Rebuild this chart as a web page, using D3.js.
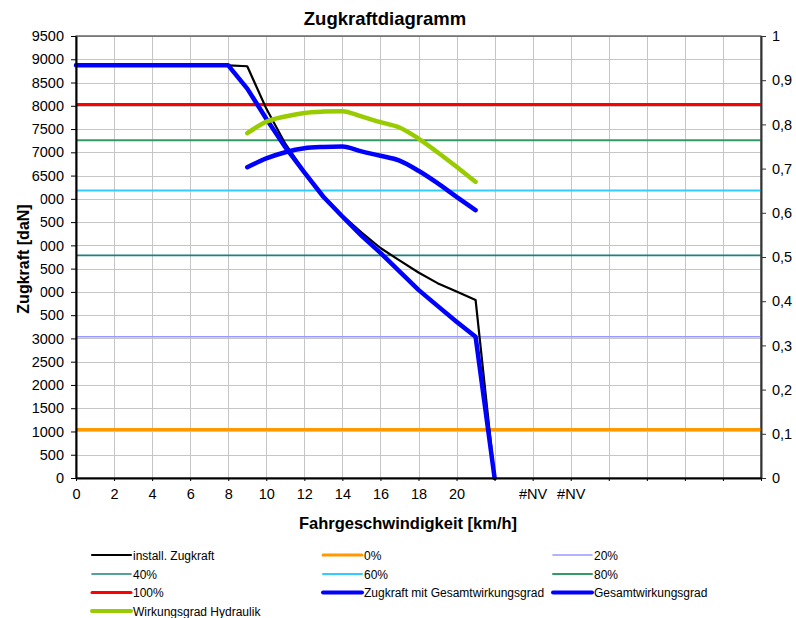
<!DOCTYPE html>
<html>
<head>
<meta charset="utf-8">
<script src="https://cdn.jsdelivr.net/npm/d3@7/dist/d3.min.js"></script>
<style>
  body { margin: 0; background: #fff; }
  svg { display: block; font-family: "Liberation Sans", Arial, sans-serif; }
</style>
</head>
<body>
<svg id="chart" width="796" height="618"></svg>
<script>
// speeds [km/h] for the traction curves
const speed = [0, 8, 9, 10, 11, 12, 13, 14, 15, 16, 17, 18, 19, 20, 21, 22];
const zugInstall = [8870, 8870, 8850, 7940, 7185, 6590, 6060, 5640, 5280, 4943, 4676, 4417, 4188, 4007, 3828, 0];
const zugGesamt = [8870, 8870, 8370, 7720, 7110, 6570, 6045, 5620, 5210, 4840, 4440, 4044, 3700, 3360, 3035, 0];

// speeds for the efficiency curves (right axis)
const effSpeed = [9, 10, 11, 12, 13, 14, 15, 16, 17, 18, 19, 20, 21];
const gesamtEff = [0.703, 0.723, 0.737, 0.746, 0.749, 0.750, 0.739, 0.729, 0.718, 0.695, 0.667, 0.636, 0.606];
const hydraulikEff = [0.780, 0.806, 0.818, 0.826, 0.829, 0.830, 0.818, 0.805, 0.793, 0.768, 0.737, 0.704, 0.670];

// constant levels (0% .. 100%)
const levelNames = ["0%", "20%", "40%", "60%", "80%", "100%"];
const levelValues = [1045, 3035, 4785, 6180, 7260, 8030];
const levelSpan = [0, 36];

const xTicks = d3.range(0, 37, 2);
const xTickLabels = ["0", "2", "4", "6", "8", "10", "12", "14", "16", "18", "20", "", "#NV", "#NV", "", "", "", "", ""];
const yLeftTicks = d3.range(0, 9501, 500);
const yRightTicks = d3.range(0, 11).map(d => d / 10);

const legendNames = ["install. Zugkraft", "0%", "20%", "40%", "60%", "80%", "100%",
  "Zugkraft mit Gesamtwirkungsgrad", "Gesamtwirkungsgrad", "Wirkungsgrad Hydraulik"];

// styles
const style = {
  "install. Zugkraft": { color: "#000000", width: 2.2 },
  "0%": { color: "#ff9900", width: 3 },
  "20%": { color: "#9999ff", width: 1.6 },
  "40%": { color: "#1f8080", width: 1.6 },
  "60%": { color: "#33ccff", width: 2 },
  "80%": { color: "#339966", width: 2 },
  "100%": { color: "#ff0000", width: 3 },
  "Zugkraft mit Gesamtwirkungsgrad": { color: "#0000ff", width: 4.5 },
  "Gesamtwirkungsgrad": { color: "#0000ff", width: 4.5 },
  "Wirkungsgrad Hydraulik": { color: "#99cc00", width: 4.5 }
};

const pLeft = 76, pRight = 761, pTop = 36, pBottom = 478;
const svg = d3.select("#chart");

const x = d3.scaleLinear().domain([0, 36]).range([pLeft, pRight]);
const yL = d3.scaleLinear().domain([0, 9500]).range([pBottom, pTop]);
const yR = d3.scaleLinear().domain([0, 1]).range([pBottom, pTop]);

// grid
const grid = svg.append("g").attr("stroke", "#c6c6c6").attr("stroke-width", 1);
grid.selectAll("line.h").data(yLeftTicks.slice(1)).enter().append("line")
  .attr("x1", pLeft).attr("x2", pRight)
  .attr("y1", d => Math.round(yL(d)) + 0.5).attr("y2", d => Math.round(yL(d)) + 0.5);
grid.selectAll("line.v").data(xTicks.slice(1, -1)).enter().append("line")
  .attr("y1", pTop).attr("y2", pBottom)
  .attr("x1", d => Math.round(x(d)) + 0.5).attr("x2", d => Math.round(x(d)) + 0.5);

// plot border
svg.append("rect").attr("x", pLeft).attr("y", pTop).attr("width", pRight - pLeft).attr("height", pBottom - pTop)
  .attr("fill", "none").attr("stroke", "#444").attr("stroke-width", 1.2);

// level lines
levelNames.forEach(function(n, i) {
  svg.append("line")
    .attr("x1", x(levelSpan[0])).attr("x2", x(levelSpan[1]))
    .attr("y1", yL(levelValues[i])).attr("y2", yL(levelValues[i]))
    .attr("stroke", style[n].color).attr("stroke-width", style[n].width);
});

const lineL = d3.line().x(d => x(d[0])).y(d => yL(d[1]));
const lineR = d3.line().x(d => x(d[0])).y(d => yR(d[1])).curve(d3.curveMonotoneX);

function drawPath(pts, gen, name) {
  svg.append("path").datum(pts).attr("d", gen)
    .attr("fill", "none")
    .attr("stroke", style[name].color)
    .attr("stroke-width", style[name].width)
    .attr("stroke-linejoin", "round")
    .attr("stroke-linecap", "round");
}

drawPath(d3.zip(speed, zugInstall), lineL, "install. Zugkraft");
drawPath(d3.zip(speed, zugGesamt), lineL, "Zugkraft mit Gesamtwirkungsgrad");
drawPath(d3.zip(effSpeed, gesamtEff), lineR, "Gesamtwirkungsgrad");
drawPath(d3.zip(effSpeed, hydraulikEff), lineR, "Wirkungsgrad Hydraulik");

// axes
const gL = svg.append("g").attr("transform", "translate(" + pLeft + ",0)")
  .call(d3.axisLeft(yL).tickValues(yLeftTicks).tickFormat(d3.format("d")).tickSize(5).tickPadding(7).tickSizeOuter(0));
const gR = svg.append("g").attr("transform", "translate(" + pRight + ",0)")
  .call(d3.axisRight(yR).tickValues(yRightTicks)
    .tickFormat(d => d === 0 || d === 1 ? String(d) : d.toFixed(1).replace(".", ","))
    .tickSize(5).tickPadding(6).tickSizeOuter(0));
const gX = svg.append("g").attr("transform", "translate(0," + pBottom + ")")
  .call(d3.axisBottom(x).tickValues(xTicks).tickFormat((d, i) => xTickLabels[i]).tickSize(3).tickPadding(8).tickSizeOuter(0));

[gL, gR, gX].forEach(function(g) {
  g.selectAll("text").attr("font-size", 14.5).attr("fill", "#000");
  g.attr("font-family", null).attr("font-size", null);
});
gL.select(".domain").attr("stroke", "#000").attr("stroke-width", 2);
gX.select(".domain").attr("stroke", "#000").attr("stroke-width", 2);
gR.select(".domain").attr("stroke", "#333").attr("stroke-width", 2);
gL.selectAll(".tick line").attr("stroke", "#000");
gX.selectAll(".tick line").attr("stroke", "#000");
gR.selectAll(".tick line").attr("stroke", "#333");

// titles
svg.append("text").attr("x", 385).attr("y", 25).attr("text-anchor", "middle")
  .attr("font-size", 18.5).attr("font-weight", "bold").text("Zugkraftdiagramm");

svg.append("text").attr("x", 408).attr("y", 529).attr("text-anchor", "middle")
  .attr("font-size", 16.5).attr("font-weight", "bold").text("Fahrgeschwindigkeit [km/h]");

// the axis title box hides the first digit of the labels behind it
svg.append("rect").attr("x", 10).attr("y", 190).attr("width", 30.5).attr("height", 134).attr("fill", "#fff");
svg.append("text").attr("transform", "translate(29,259) rotate(-90)").attr("text-anchor", "middle")
  .attr("font-size", 16).attr("font-weight", "bold").text("Zugkraft  [daN]");

// legend
const colX = [92, 323, 553];
const rowY = [555, 574, 592.5, 611];
const leg = svg.append("g").selectAll("g").data(legendNames).enter().append("g")
  .attr("transform", (d, i) => "translate(" + colX[i % 3] + "," + rowY[Math.floor(i / 3)] + ")");
leg.append("line").attr("x1", 0).attr("x2", 39).attr("y1", 0).attr("y2", 0)
  .attr("stroke", d => style[d].color).attr("stroke-width", d => Math.min(style[d].width, 4))
  .attr("stroke-linecap", "round");
leg.append("text").attr("x", 41).attr("y", 4.5).attr("font-size", 12).text(d => d);
</script>
</body>
</html>
